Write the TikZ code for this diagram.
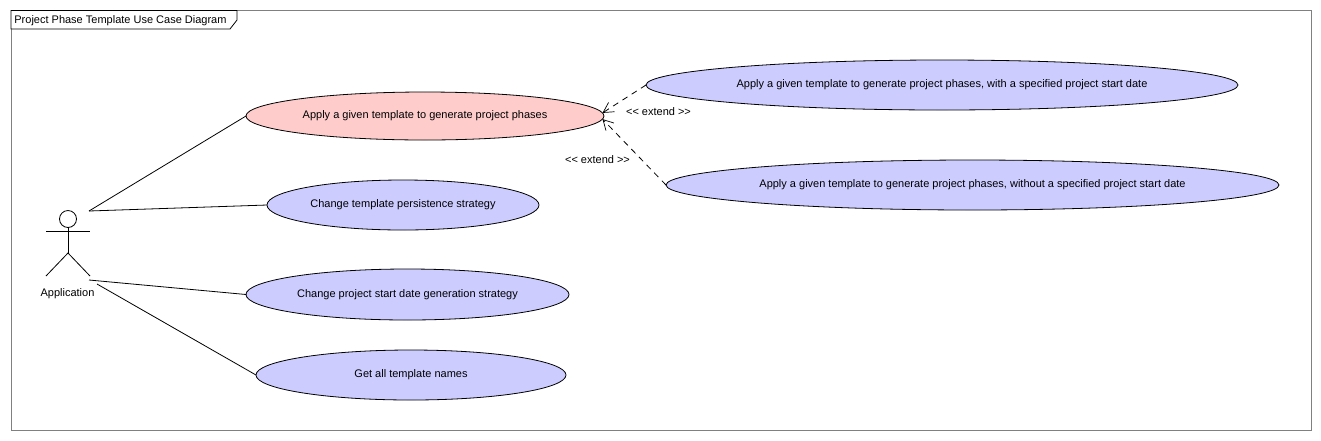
\documentclass[tikz,border=0pt]{standalone}
\usepackage{fontspec}
\setmainfont{Liberation Sans}
\usetikzlibrary{arrows.meta,shapes.geometric}
\definecolor{usecaseblue}{RGB}{204,204,255}
\definecolor{usecasered}{RGB}{255,204,204}
\definecolor{framegray}{RGB}{128,128,128}
\tikzset{
  usecase/.style={draw=black,ellipse,inner sep=0pt,outer sep=0pt,line width=0.8pt,font=\fontsize{11}{13}\selectfont},
  caption/.style={inner sep=0pt,font=\fontsize{11}{13}\selectfont},
  extendline/.style={dash pattern=on 6pt off 5pt,line width=0.8pt,-{Straight Barb[length=10pt,width=11pt,line width=0.7pt]}}
}
\begin{document}
\begin{tikzpicture}[x=1pt,y=-1pt,line width=0.8pt]
	\useasboundingbox (0,0) rectangle (1321,440);
	\draw[color=framegray] (11,10.5) rectangle (1311,430.5);
	\draw[color=black,fill=white] (11,10.5) -- (237,10.5) -- (237,20) -- (230,29) -- (11,29) -- cycle;
	\node[caption,anchor=west] (title) at (14,20.5) {Project Phase Template Use Case Diagram};
	% actor
	\node[draw=black,circle,minimum size=17pt,inner sep=0pt,outer sep=0pt] (head) at (68,219) {};
	\coordinate (hip) at (68,253);
	\coordinate (armL) at (46,231);
	\coordinate (armR) at (90,231);
	\coordinate (footL) at (46,276);
	\coordinate (footR) at (90,276);
	\draw (head.south) -- (hip);
	\draw (armL) -- (armR);
	\draw (footL) -- (hip) -- (footR);
	\node[caption] (actorname) at (67.5,294) {Application};
	\coordinate (actorA) at (89,211);
	\coordinate (actorB) at (89,280);
	\coordinate (actorC) at (97,284);
	% use cases
	\node[usecase,fill=usecasered,minimum width=358pt,minimum height=48pt] (generate) at (425,116) {Apply a given template to generate project phases};
	\node[usecase,fill=usecaseblue,minimum width=272pt,minimum height=50pt] (persistence) at (403,205) {Change template persistence strategy};
	\node[usecase,fill=usecaseblue,minimum width=323pt,minimum height=51pt] (startdate) at (407.5,294.5) {Change project start date generation strategy};
	\node[usecase,fill=usecaseblue,minimum width=310pt,minimum height=50pt] (names) at (411,375) {Get all template names};
	\node[usecase,fill=usecaseblue,minimum width=592pt,minimum height=50pt] (withdate) at (942,85) {Apply a given template to generate project phases, with a specified project start date};
	\node[usecase,fill=usecaseblue,minimum width=613pt,minimum height=50pt] (withoutdate) at (972.5,185) {Apply a given template to generate project phases, without a specified project start date};
	\draw (actorA) -- (generate.west);
	\draw (actorA) -- (persistence.west);
	\draw (actorB) -- (startdate.west);
	\draw (actorC) -- (names.west);
	\draw[extendline] (withdate.west) -- (generate.1);
	\draw[extendline] (withoutdate.west) -- (generate.359);
	\node[caption] (extendA) at (658.5,112) {<{}< extend >{}>};
	\node[caption] (extendB) at (597.5,160) {<{}< extend >{}>};
\end{tikzpicture}
\end{document}
